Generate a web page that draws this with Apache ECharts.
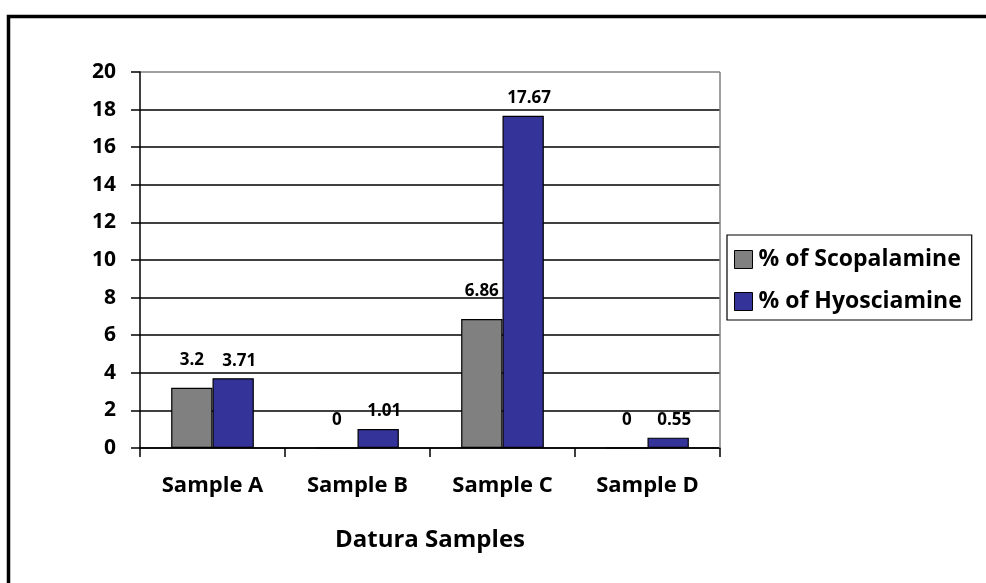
<!DOCTYPE html>
<html>
<head>
<meta charset="utf-8">
<script src="https://cdn.jsdelivr.net/npm/echarts@6/dist/echarts.min.js"></script>
<style>html,body{margin:0;padding:0;background:#fff;}#c{width:986px;height:583px;}</style>
</head>
<body>
<div id="c"></div>
<script>
var categories = ['Sample A', 'Sample B', 'Sample C', 'Sample D'];
var scopolamine = [3.2, 0, 6.86, 0];
var hyoscyamine = [3.71, 1.01, 17.67, 0.55];
var seriesNames = ['% of Scopalamine', '% of Hyosciamine'];
var xAxisTitle = 'Datura Samples';

var FONT = '"Open Sans", "Noto Sans", sans-serif';
var chart = echarts.init(document.getElementById('c'));
var gridColors = [];
for (var i = 0; i < 11; i++) gridColors.push(i === 10 ? '#808080' : '#000');

chart.setOption({
  animation: false,
  backgroundColor: '#fff',
  textStyle: { fontFamily: FONT },
  graphic: [{
    type: 'rect', left: 6, top: 14, z: 100,
    shape: { width: 1100, height: 700 },
    style: { fill: 'none', stroke: '#000', lineWidth: 3.5 }
  }, {
    type: 'line', z: 5,
    shape: { x1: 720, y1: 72, x2: 720, y2: 448 },
    style: { stroke: '#808080', lineWidth: 1.5 }
  }],
  grid: { left: 140, top: 72, width: 580, height: 376, containLabel: false },
  legend: {
    orient: 'vertical',
    left: 727, top: 235,
    padding: [13, 10, 7, 7],
    itemGap: 19,
    itemWidth: 18, itemHeight: 18,
    borderColor: '#000', borderWidth: 1.2,
    icon: 'rect',
    itemStyle: { borderColor: '#000', borderWidth: 1 },
    textStyle: { fontFamily: FONT, fontWeight: 'bold', fontSize: 23, color: '#000', padding: [0, 0, 0, 1] },
    data: seriesNames
  },
  xAxis: {
    type: 'category',
    data: categories,
    name: xAxisTitle,
    nameLocation: 'middle',
    nameGap: 80,
    nameTextStyle: { fontFamily: FONT, fontWeight: 'bold', fontSize: 24, color: '#000' },
    axisLine: { lineStyle: { color: '#000', width: 1.5 } },
    axisTick: { show: true, length: 9, inside: false, lineStyle: { color: '#000', width: 1.5 } },
    axisLabel: { fontFamily: FONT, fontWeight: 'bold', fontSize: 22, color: '#000', margin: 27 }
  },
  yAxis: {
    type: 'value',
    min: 0, max: 20, interval: 2,
    axisLine: { show: true, lineStyle: { color: '#000', width: 1.5 } },
    axisTick: { show: true, length: 9, lineStyle: { color: '#000', width: 1.5 } },
    axisLabel: { fontFamily: FONT, fontWeight: 'bold', fontSize: 21, color: '#000', margin: 24, padding: [0, 0, 8, 0] },
    splitLine: { show: true, lineStyle: { color: gridColors, width: 1.5 } }
  },
  series: [{
    name: seriesNames[0],
    type: 'bar',
    data: scopolamine,
    barGap: '0%',
    barCategoryGap: '43%',
    itemStyle: { color: '#808080', borderColor: '#000', borderWidth: 1.2 },
    label: { show: true, position: 'top', distance: 19, fontFamily: FONT, fontWeight: 'bold', fontSize: 17, color: '#000' }
  }, {
    name: seriesNames[1],
    type: 'bar',
    data: hyoscyamine,
    itemStyle: { color: '#333399', borderColor: '#000', borderWidth: 1.2 },
    label: { show: true, position: 'top', distance: 9, offset: [6, 0], fontFamily: FONT, fontWeight: 'bold', fontSize: 17, color: '#000' }
  }]
});
</script>
</body>
</html>
